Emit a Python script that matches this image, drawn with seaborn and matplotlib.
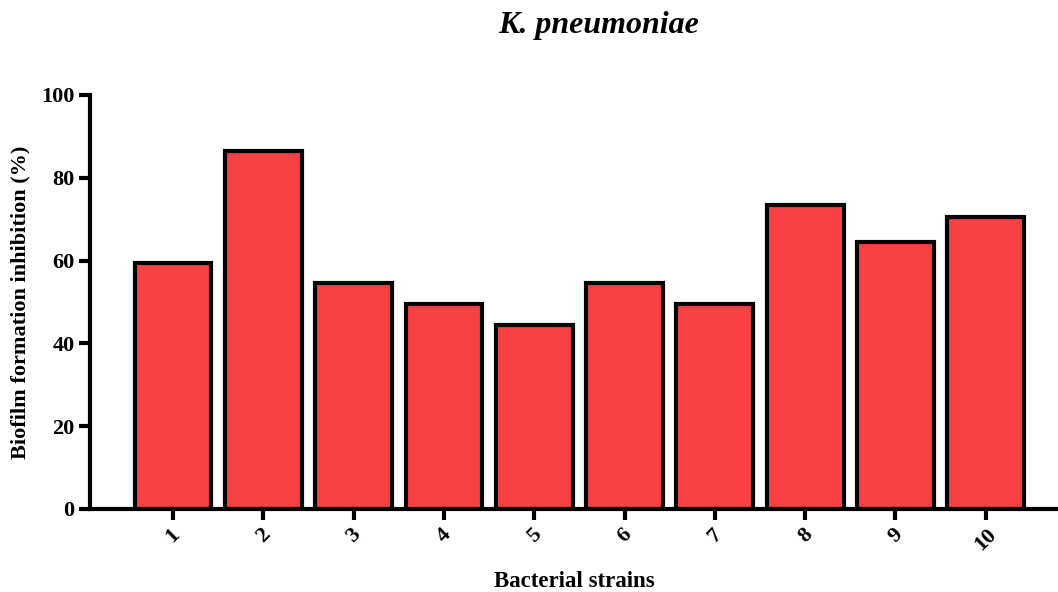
import matplotlib
matplotlib.use("Agg")
import matplotlib.pyplot as plt
import seaborn as sns
import pandas as pd

strains = ["1", "2", "3", "4", "5", "6", "7", "8", "9", "10"]
inhibition = [59.5, 86.5, 54.5, 49.5, 44.5, 54.5, 49.5, 73.5, 64.5, 70.5]
y_ticks = [0, 20, 40, 60, 80, 100]

sns.set_theme(style="ticks")
plt.rcParams["font.family"] = ["Liberation Serif", "DejaVu Serif"]
plt.rcParams["font.weight"] = "bold"
plt.rcParams["text.color"] = "black"
plt.rcParams["axes.labelcolor"] = "black"
plt.rcParams["xtick.color"] = "black"
plt.rcParams["ytick.color"] = "black"

df = pd.DataFrame({"strain": strains, "value": inhibition})

fig = plt.figure(figsize=(10.58, 5.92), dpi=100)
ax = fig.add_axes([90 / 1058, 1 - 509 / 592, (1058 - 90) / 1058, (509 - 95) / 592])

sns.barplot(data=df, x="strain", y="value", order=strains, color="#F94144",
            saturation=1, width=0.85, edgecolor="black", linewidth=3.0, ax=ax)

ax.set_xlim(-0.92, 9.8)
ax.set_ylim(0, 100)
ax.set_yticks(y_ticks)
ax.set_yticklabels([str(t) for t in y_ticks], fontsize=16, fontweight="bold")
ax.set_xticks(range(len(strains)))
ax.set_xticklabels(strains, fontsize=16, fontweight="bold", rotation=45,
                   ha="center", va="top")

for side in ["top", "right"]:
    ax.spines[side].set_visible(False)
for side in ["left", "bottom"]:
    ax.spines[side].set_linewidth(3)
    ax.spines[side].set_color("black")
ax.tick_params(axis="both", width=3, length=8, color="black", pad=3)
ax.spines["left"].set_zorder(5)
ax.spines["bottom"].set_zorder(5)

ax.set_xlabel("Bacterial strains", fontsize=16.5, fontweight="bold", labelpad=12)
ax.set_ylabel("Biofilm formation inhibition (%)", fontsize=16, fontweight="bold", labelpad=8)

fig.text(599 / 1058, 1 - 25 / 592, "K. pneumoniae", fontsize=23, fontweight="bold",
         fontstyle="italic", ha="center", va="center")

fig.savefig("out.png", dpi=100)
